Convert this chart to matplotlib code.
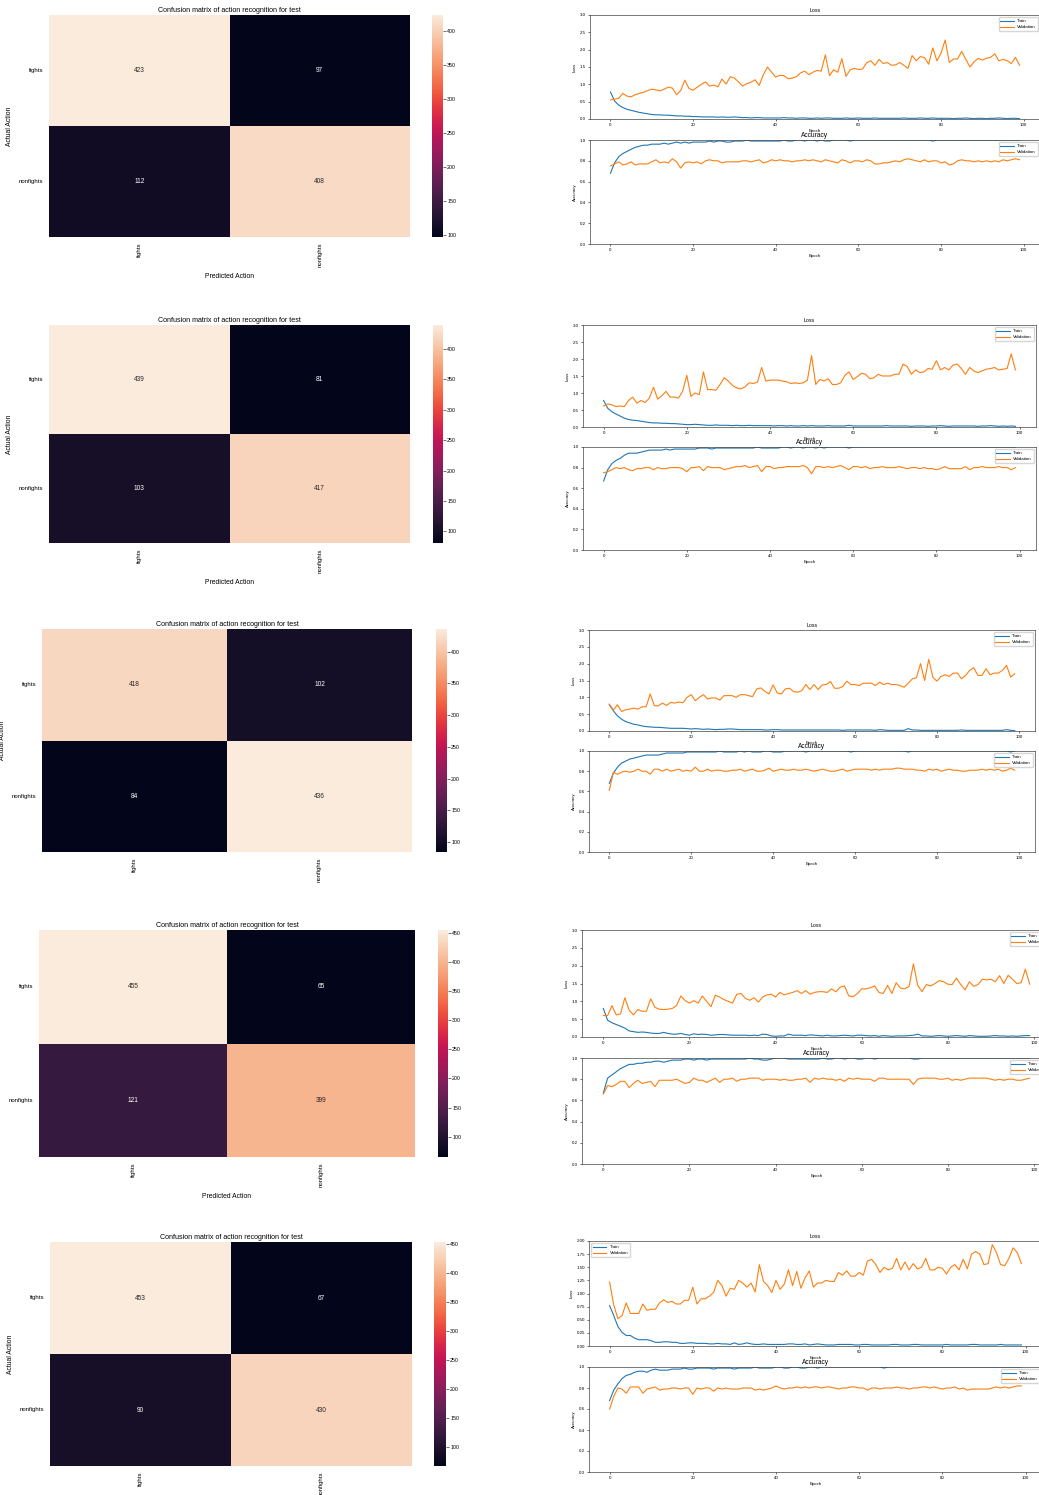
import numpy as np
import matplotlib
matplotlib.use('Agg')
import matplotlib.pyplot as plt
import seaborn as sns

plt.rcParams['font.family'] = ['Liberation Sans', 'DejaVu Sans']

W, H = 1039, 1495

# confusion matrices (rows: actual, cols: predicted)
classes = ['fights', 'nonfights']
cm_1 = [[423, 97], [112, 408]]
cm_2 = [[439, 81], [103, 417]]
cm_3 = [[418, 102], [84, 436]]
cm_4 = [[455, 65], [121, 399]]
cm_5 = [[453, 67], [90, 430]]

# run 1 history
loss_train_1 = [0.78, 0.52, 0.40, 0.33, 0.28, 0.25, 0.22, 0.19, 0.17, 0.15,
                0.13, 0.12, 0.12, 0.11, 0.11, 0.10, 0.09, 0.09, 0.08, 0.08,
                0.07, 0.07, 0.06, 0.06, 0.06, 0.06, 0.05, 0.06, 0.05, 0.05,
                0.06, 0.05, 0.04, 0.04, 0.03, 0.04, 0.04, 0.03, 0.03, 0.03,
                0.03, 0.03, 0.04, 0.03, 0.03, 0.02, 0.03, 0.03, 0.02, 0.02,
                0.03, 0.02, 0.03, 0.03, 0.02, 0.02, 0.02, 0.03, 0.02, 0.02,
                0.03, 0.02, 0.02, 0.02, 0.03, 0.02, 0.02, 0.02, 0.02, 0.02,
                0.02, 0.03, 0.02, 0.02, 0.02, 0.03, 0.02, 0.02, 0.03, 0.02,
                0.02, 0.02, 0.02, 0.01, 0.02, 0.02, 0.03, 0.02, 0.01, 0.02,
                0.02, 0.01, 0.02, 0.02, 0.03, 0.02, 0.01, 0.02, 0.02, 0.01]
loss_val_1 = [0.55, 0.57, 0.60, 0.74, 0.66, 0.64, 0.70, 0.74, 0.77, 0.82,
              0.86, 0.84, 0.81, 0.86, 0.92, 0.89, 0.70, 0.82, 1.12, 0.88,
              0.83, 0.92, 1.00, 1.07, 0.95, 0.98, 0.93, 1.15, 1.01, 1.22,
              1.18, 1.07, 0.95, 1.02, 1.06, 1.13, 0.97, 1.28, 1.50, 1.35,
              1.21, 1.26, 1.25, 1.16, 1.18, 1.22, 1.33, 1.38, 1.28, 1.35,
              1.40, 1.38, 1.85, 1.25, 1.42, 1.35, 1.74, 1.23, 1.42, 1.46,
              1.43, 1.44, 1.62, 1.68, 1.55, 1.72, 1.60, 1.63, 1.55, 1.56,
              1.63, 1.55, 1.46, 1.83, 1.68, 1.80, 1.77, 1.58, 2.05, 1.68,
              1.90, 2.28, 1.63, 1.73, 1.73, 1.95, 1.72, 1.50, 1.65, 1.75,
              1.70, 1.75, 1.78, 1.88, 1.68, 1.72, 1.68, 1.60, 1.78, 1.55]
acc_train_1 = [0.68, 0.78, 0.84, 0.87, 0.89, 0.91, 0.93, 0.94, 0.95, 0.95,
               0.96, 0.96, 0.96, 0.97, 0.96, 0.97, 0.98, 0.97, 0.98, 0.97,
               0.98, 0.98, 0.98, 0.98, 0.99, 0.98, 0.99, 0.99, 0.98, 0.98,
               0.99, 0.99, 0.99, 1.00, 0.99, 0.99, 0.99, 0.99, 0.99, 0.99,
               0.99, 0.99, 1.00, 0.99, 0.99, 1.00, 1.00, 0.99, 1.00, 1.00,
               0.99, 1.00, 0.99, 0.99, 1.00, 1.00, 1.00, 1.00, 0.99, 1.00,
               1.00, 1.00, 1.00, 1.00, 1.00, 1.00, 1.00, 1.00, 1.00, 1.00,
               1.00, 1.00, 1.00, 1.00, 1.00, 1.00, 1.00, 1.00, 0.99, 1.00,
               1.00, 1.00, 1.00, 1.00, 1.00, 1.00, 1.00, 1.00, 1.00, 1.00,
               1.00, 1.00, 1.00, 1.00, 1.00, 1.00, 1.00, 1.00, 1.00, 1.00]
acc_val_1 = [0.75, 0.77, 0.79, 0.76, 0.77, 0.79, 0.76, 0.77, 0.77, 0.77,
             0.79, 0.81, 0.78, 0.79, 0.78, 0.82, 0.79, 0.73, 0.78, 0.79,
             0.78, 0.79, 0.77, 0.80, 0.81, 0.80, 0.80, 0.78, 0.79, 0.79,
             0.79, 0.79, 0.80, 0.80, 0.79, 0.80, 0.81, 0.78, 0.79, 0.81,
             0.80, 0.81, 0.80, 0.80, 0.79, 0.80, 0.80, 0.81, 0.80, 0.81,
             0.80, 0.79, 0.81, 0.80, 0.79, 0.78, 0.81, 0.80, 0.78, 0.80,
             0.80, 0.79, 0.81, 0.80, 0.77, 0.77, 0.78, 0.78, 0.79, 0.80,
             0.79, 0.81, 0.82, 0.81, 0.80, 0.79, 0.81, 0.79, 0.80, 0.80,
             0.78, 0.79, 0.76, 0.77, 0.80, 0.81, 0.80, 0.80, 0.79, 0.80,
             0.79, 0.80, 0.79, 0.80, 0.79, 0.81, 0.80, 0.81, 0.82, 0.81]

# run 2 history
loss_train_2 = [0.78, 0.55, 0.45, 0.38, 0.32, 0.26, 0.22, 0.20, 0.19, 0.17,
                0.15, 0.13, 0.12, 0.12, 0.11, 0.11, 0.10, 0.10, 0.09, 0.08,
                0.07, 0.07, 0.08, 0.07, 0.06, 0.05, 0.05, 0.06, 0.05, 0.05,
                0.05, 0.04, 0.05, 0.04, 0.04, 0.05, 0.04, 0.04, 0.04, 0.04,
                0.04, 0.03, 0.04, 0.04, 0.03, 0.04, 0.03, 0.03, 0.04, 0.03,
                0.04, 0.03, 0.03, 0.03, 0.04, 0.03, 0.03, 0.03, 0.03, 0.05,
                0.03, 0.03, 0.03, 0.03, 0.03, 0.03, 0.03, 0.03, 0.04, 0.03,
                0.03, 0.03, 0.03, 0.03, 0.02, 0.03, 0.03, 0.03, 0.02, 0.03,
                0.03, 0.04, 0.03, 0.02, 0.03, 0.03, 0.03, 0.03, 0.03, 0.03,
                0.02, 0.03, 0.03, 0.04, 0.03, 0.02, 0.03, 0.02, 0.03, 0.02]
loss_val_2 = [0.62, 0.68, 0.65, 0.60, 0.62, 0.60, 0.78, 0.88, 0.70, 0.78,
              0.72, 0.85, 1.17, 0.82, 0.92, 1.05, 0.88, 0.88, 0.85, 1.05,
              1.52, 0.90, 1.00, 0.95, 1.62, 1.10, 1.10, 1.08, 1.25, 1.45,
              1.35, 1.22, 1.15, 1.12, 1.18, 1.30, 1.28, 1.32, 1.75, 1.35,
              1.38, 1.38, 1.38, 1.35, 1.33, 1.28, 1.30, 1.28, 1.30, 1.38,
              2.10, 1.25, 1.40, 1.35, 1.42, 1.25, 1.25, 1.30, 1.52, 1.62,
              1.40, 1.48, 1.58, 1.55, 1.42, 1.45, 1.55, 1.50, 1.50, 1.50,
              1.55, 1.55, 1.85, 1.78, 1.55, 1.68, 1.60, 1.62, 1.72, 1.70,
              1.95, 1.68, 1.75, 1.68, 1.82, 1.85, 1.72, 1.55, 1.75, 1.65,
              1.60, 1.65, 1.70, 1.72, 1.75, 1.68, 1.70, 1.72, 2.15, 1.68]
acc_train_2 = [0.67, 0.78, 0.84, 0.87, 0.89, 0.92, 0.94, 0.94, 0.94, 0.95,
               0.96, 0.97, 0.97, 0.97, 0.97, 0.98, 0.97, 0.98, 0.98, 0.98,
               0.98, 0.98, 0.98, 0.99, 0.99, 0.99, 0.98, 0.99, 0.99, 0.99,
               0.99, 0.99, 0.99, 0.99, 0.99, 0.99, 0.99, 1.00, 0.99, 0.99,
               0.99, 0.99, 0.99, 1.00, 1.00, 0.99, 1.00, 1.00, 0.99, 1.00,
               1.00, 0.99, 1.00, 0.99, 1.00, 1.00, 1.00, 1.00, 1.00, 0.99,
               1.00, 1.00, 1.00, 1.00, 1.00, 1.00, 1.00, 1.00, 1.00, 1.00,
               1.00, 1.00, 1.00, 1.00, 1.00, 1.00, 1.00, 1.00, 1.00, 1.00,
               1.00, 1.00, 1.00, 1.00, 1.00, 1.00, 1.00, 1.00, 1.00, 1.00,
               1.00, 1.00, 1.00, 1.00, 1.00, 1.00, 1.00, 1.00, 1.00, 1.00]
acc_val_2 = [0.75, 0.76, 0.78, 0.80, 0.79, 0.80, 0.78, 0.77, 0.79, 0.79,
             0.80, 0.80, 0.78, 0.80, 0.79, 0.79, 0.80, 0.80, 0.80, 0.79,
             0.76, 0.80, 0.80, 0.81, 0.77, 0.81, 0.80, 0.80, 0.80, 0.78,
             0.79, 0.80, 0.81, 0.81, 0.82, 0.80, 0.81, 0.82, 0.76, 0.81,
             0.81, 0.79, 0.80, 0.80, 0.81, 0.81, 0.81, 0.81, 0.82, 0.80,
             0.74, 0.81, 0.81, 0.80, 0.81, 0.80, 0.81, 0.82, 0.80, 0.78,
             0.81, 0.81, 0.80, 0.81, 0.79, 0.80, 0.80, 0.81, 0.80, 0.80,
             0.80, 0.81, 0.80, 0.79, 0.80, 0.80, 0.79, 0.80, 0.79, 0.79,
             0.78, 0.79, 0.81, 0.79, 0.79, 0.79, 0.79, 0.81, 0.78, 0.80,
             0.80, 0.81, 0.80, 0.80, 0.80, 0.81, 0.80, 0.80, 0.78, 0.80]

# run 3 history
loss_train_3 = [0.78, 0.60, 0.45, 0.35, 0.28, 0.24, 0.20, 0.18, 0.15, 0.13,
                0.12, 0.11, 0.11, 0.10, 0.09, 0.08, 0.08, 0.08, 0.08, 0.07,
                0.06, 0.07, 0.06, 0.05, 0.06, 0.05, 0.04, 0.05, 0.05, 0.06,
                0.06, 0.05, 0.04, 0.04, 0.04, 0.04, 0.04, 0.04, 0.03, 0.03,
                0.04, 0.04, 0.03, 0.03, 0.03, 0.03, 0.03, 0.03, 0.03, 0.03,
                0.03, 0.03, 0.03, 0.03, 0.03, 0.03, 0.03, 0.02, 0.03, 0.03,
                0.03, 0.03, 0.03, 0.03, 0.03, 0.02, 0.04, 0.03, 0.02, 0.02,
                0.02, 0.02, 0.02, 0.07, 0.03, 0.03, 0.02, 0.02, 0.02, 0.02,
                0.02, 0.02, 0.02, 0.02, 0.02, 0.02, 0.03, 0.02, 0.02, 0.02,
                0.02, 0.02, 0.02, 0.02, 0.02, 0.02, 0.02, 0.04, 0.02, 0.01]
loss_val_3 = [0.80, 0.62, 0.78, 0.58, 0.63, 0.65, 0.68, 0.65, 0.72, 0.72,
              1.10, 0.75, 0.75, 0.83, 0.76, 0.85, 0.83, 0.86, 0.84, 1.00,
              1.08, 0.90, 1.00, 1.08, 0.95, 0.98, 0.98, 0.92, 1.05, 1.05,
              1.05, 1.00, 1.08, 1.08, 1.05, 1.02, 1.25, 1.28, 1.18, 1.10,
              1.37, 1.13, 1.10, 1.25, 1.27, 1.17, 1.15, 1.20, 1.38, 1.23,
              1.38, 1.23, 1.37, 1.38, 1.47, 1.27, 1.27, 1.32, 1.48, 1.38,
              1.38, 1.35, 1.42, 1.42, 1.42, 1.35, 1.45, 1.38, 1.42, 1.38,
              1.38, 1.35, 1.30, 1.42, 1.55, 1.58, 2.00, 1.50, 2.13, 1.60,
              1.48, 1.62, 1.67, 1.62, 1.72, 1.72, 1.55, 1.65, 1.80, 1.88,
              1.65, 1.65, 1.85, 1.67, 1.72, 1.72, 1.80, 1.95, 1.60, 1.70]
acc_train_3 = [0.68, 0.78, 0.84, 0.88, 0.90, 0.92, 0.93, 0.94, 0.95, 0.96,
               0.96, 0.96, 0.96, 0.97, 0.98, 0.98, 0.98, 0.98, 0.98, 0.99,
               0.99, 0.99, 0.99, 0.99, 0.99, 0.99, 0.99, 1.00, 0.99, 0.99,
               0.99, 0.99, 1.00, 0.99, 1.00, 0.99, 0.99, 0.99, 1.00, 1.00,
               0.99, 0.99, 0.99, 1.00, 1.00, 1.00, 1.00, 1.00, 0.99, 1.00,
               1.00, 1.00, 1.00, 1.00, 1.00, 1.00, 1.00, 1.00, 1.00, 0.99,
               1.00, 1.00, 1.00, 1.00, 1.00, 1.00, 1.00, 1.00, 1.00, 1.00,
               1.00, 1.00, 1.00, 0.99, 1.00, 1.00, 1.00, 1.00, 1.00, 1.00,
               1.00, 1.00, 1.00, 1.00, 1.00, 1.00, 1.00, 1.00, 1.00, 1.00,
               1.00, 1.00, 1.00, 1.00, 1.00, 1.00, 1.00, 1.00, 0.99, 1.00]
acc_val_3 = [0.61, 0.79, 0.77, 0.79, 0.80, 0.79, 0.80, 0.82, 0.80, 0.80,
             0.77, 0.82, 0.82, 0.80, 0.82, 0.80, 0.81, 0.82, 0.80, 0.81,
             0.80, 0.84, 0.80, 0.80, 0.82, 0.80, 0.81, 0.81, 0.80, 0.80,
             0.81, 0.81, 0.82, 0.80, 0.81, 0.82, 0.80, 0.80, 0.81, 0.83,
             0.80, 0.81, 0.82, 0.81, 0.81, 0.82, 0.81, 0.81, 0.82, 0.81,
             0.80, 0.81, 0.82, 0.81, 0.80, 0.80, 0.81, 0.82, 0.80, 0.81,
             0.82, 0.82, 0.82, 0.82, 0.81, 0.82, 0.81, 0.82, 0.82, 0.82,
             0.83, 0.83, 0.82, 0.82, 0.82, 0.81, 0.81, 0.80, 0.82, 0.81,
             0.82, 0.80, 0.81, 0.82, 0.81, 0.81, 0.80, 0.80, 0.81, 0.81,
             0.81, 0.82, 0.81, 0.82, 0.81, 0.82, 0.80, 0.81, 0.83, 0.81]

# run 4 history
loss_train_4 = [0.80, 0.47, 0.40, 0.35, 0.30, 0.25, 0.17, 0.15, 0.13, 0.14,
                0.13, 0.11, 0.10, 0.10, 0.13, 0.10, 0.08, 0.08, 0.10, 0.07,
                0.05, 0.09, 0.07, 0.08, 0.07, 0.05, 0.06, 0.07, 0.07, 0.06,
                0.05, 0.05, 0.05, 0.05, 0.04, 0.05, 0.04, 0.08, 0.07, 0.03,
                0.02, 0.03, 0.03, 0.08, 0.05, 0.05, 0.05, 0.04, 0.06, 0.05,
                0.04, 0.03, 0.05, 0.03, 0.03, 0.04, 0.05, 0.04, 0.03, 0.05,
                0.05, 0.04, 0.03, 0.04, 0.02, 0.04, 0.03, 0.02, 0.03, 0.03,
                0.03, 0.04, 0.05, 0.08, 0.03, 0.03, 0.02, 0.03, 0.04, 0.03,
                0.02, 0.03, 0.04, 0.03, 0.02, 0.04, 0.03, 0.02, 0.02, 0.02,
                0.03, 0.04, 0.03, 0.03, 0.02, 0.03, 0.02, 0.03, 0.04, 0.04]
loss_val_4 = [0.60, 0.60, 0.88, 0.62, 0.65, 1.10, 0.75, 0.62, 0.77, 0.72,
              0.72, 1.07, 0.83, 0.78, 0.77, 0.78, 0.80, 0.88, 1.15, 1.02,
              0.95, 1.02, 0.95, 1.15, 1.00, 0.85, 1.17, 1.12, 1.05, 1.00,
              0.95, 1.20, 1.22, 1.08, 1.03, 1.10, 0.98, 1.12, 1.18, 1.20,
              1.12, 1.25, 1.18, 1.22, 1.25, 1.30, 1.22, 1.30, 1.20, 1.25,
              1.27, 1.27, 1.25, 1.35, 1.27, 1.40, 1.43, 1.15, 1.13, 1.22,
              1.35, 1.35, 1.38, 1.43, 1.25, 1.22, 1.45, 1.22, 1.52, 1.37,
              1.35, 1.42, 2.05, 1.45, 1.27, 1.47, 1.43, 1.50, 1.58, 1.55,
              1.48, 1.47, 1.65, 1.47, 1.32, 1.55, 1.42, 1.47, 1.62, 1.60,
              1.62, 1.55, 1.72, 1.50, 1.73, 1.62, 1.50, 1.52, 1.90, 1.48]
acc_train_4 = [0.67, 0.81, 0.84, 0.87, 0.90, 0.92, 0.94, 0.94, 0.95, 0.95,
               0.96, 0.96, 0.97, 0.97, 0.96, 0.97, 0.98, 0.98, 0.98, 0.99,
               0.99, 0.98, 0.99, 0.99, 0.98, 0.99, 0.99, 0.99, 0.99, 0.99,
               0.99, 0.99, 0.99, 0.99, 1.00, 0.99, 0.99, 0.98, 0.98, 0.99,
               1.00, 1.00, 1.00, 0.99, 0.99, 0.99, 0.99, 0.99, 0.99, 0.99,
               0.99, 1.00, 0.99, 0.99, 1.00, 1.00, 0.99, 1.00, 1.00, 0.99,
               0.99, 1.00, 1.00, 0.99, 1.00, 1.00, 1.00, 1.00, 1.00, 1.00,
               1.00, 1.00, 0.99, 0.99, 1.00, 1.00, 1.00, 1.00, 1.00, 1.00,
               1.00, 1.00, 1.00, 1.00, 1.00, 1.00, 1.00, 1.00, 1.00, 1.00,
               1.00, 1.00, 1.00, 1.00, 1.00, 1.00, 1.00, 1.00, 1.00, 1.00]
acc_val_4 = [0.66, 0.74, 0.73, 0.75, 0.78, 0.78, 0.72, 0.76, 0.79, 0.76,
             0.77, 0.78, 0.73, 0.79, 0.79, 0.79, 0.79, 0.80, 0.78, 0.76,
             0.77, 0.81, 0.79, 0.79, 0.77, 0.79, 0.81, 0.77, 0.80, 0.80,
             0.81, 0.78, 0.80, 0.80, 0.81, 0.81, 0.81, 0.79, 0.80, 0.80,
             0.80, 0.79, 0.80, 0.79, 0.79, 0.80, 0.80, 0.81, 0.77, 0.81,
             0.80, 0.81, 0.80, 0.80, 0.79, 0.80, 0.78, 0.81, 0.80, 0.81,
             0.80, 0.80, 0.80, 0.78, 0.81, 0.81, 0.80, 0.80, 0.80, 0.80,
             0.80, 0.80, 0.75, 0.80, 0.81, 0.81, 0.81, 0.81, 0.80, 0.80,
             0.81, 0.79, 0.80, 0.79, 0.80, 0.81, 0.81, 0.81, 0.81, 0.81,
             0.80, 0.79, 0.80, 0.79, 0.80, 0.80, 0.79, 0.79, 0.80, 0.81]

# run 5 history
loss_train_5 = [0.77, 0.58, 0.37, 0.26, 0.20, 0.20, 0.15, 0.12, 0.12, 0.12,
                0.10, 0.07, 0.07, 0.08, 0.08, 0.07, 0.07, 0.05, 0.05, 0.06,
                0.06, 0.05, 0.05, 0.05, 0.04, 0.04, 0.05, 0.04, 0.04, 0.03,
                0.06, 0.03, 0.04, 0.06, 0.04, 0.03, 0.03, 0.04, 0.03, 0.03,
                0.03, 0.03, 0.03, 0.04, 0.04, 0.03, 0.03, 0.04, 0.02, 0.03,
                0.04, 0.03, 0.02, 0.02, 0.02, 0.03, 0.03, 0.03, 0.03, 0.02,
                0.02, 0.03, 0.03, 0.02, 0.02, 0.02, 0.02, 0.02, 0.03, 0.03,
                0.02, 0.02, 0.02, 0.03, 0.03, 0.02, 0.02, 0.02, 0.02, 0.02,
                0.02, 0.03, 0.02, 0.02, 0.02, 0.02, 0.02, 0.03, 0.03, 0.02,
                0.02, 0.02, 0.02, 0.02, 0.03, 0.02, 0.02, 0.02, 0.02, 0.02]
loss_val_5 = [1.22, 0.78, 0.52, 0.58, 0.82, 0.62, 0.62, 0.62, 0.80, 0.68,
              0.70, 0.70, 0.82, 0.88, 0.83, 0.85, 0.80, 0.80, 0.87, 0.87,
              1.12, 0.80, 0.90, 0.90, 0.95, 1.02, 1.25, 1.15, 0.95, 1.10,
              1.08, 1.25, 1.20, 1.12, 1.20, 1.03, 1.55, 1.23, 1.15, 1.02,
              1.25, 1.08, 1.18, 1.45, 1.15, 1.42, 1.10, 1.30, 1.43, 1.12,
              1.20, 1.20, 1.25, 1.23, 1.23, 1.40, 1.35, 1.43, 1.33, 1.33,
              1.40, 1.35, 1.62, 1.65, 1.55, 1.40, 1.50, 1.45, 1.48, 1.67,
              1.45, 1.60, 1.45, 1.57, 1.47, 1.50, 1.67, 1.45, 1.45, 1.50,
              1.48, 1.37, 1.50, 1.55, 1.45, 1.65, 1.47, 1.75, 1.80, 1.75,
              1.55, 1.57, 1.93, 1.78, 1.55, 1.53, 1.67, 1.87, 1.78, 1.57]
acc_train_5 = [0.68, 0.78, 0.84, 0.89, 0.92, 0.93, 0.95, 0.96, 0.96, 0.95,
               0.97, 0.98, 0.97, 0.97, 0.97, 0.98, 0.98, 0.98, 0.99, 0.98,
               0.98, 0.99, 0.99, 0.99, 0.99, 0.98, 0.99, 0.99, 0.99, 0.99,
               0.98, 0.99, 0.99, 0.99, 0.99, 1.00, 0.99, 0.99, 0.99, 0.99,
               1.00, 1.00, 0.99, 0.99, 1.00, 1.00, 0.99, 0.99, 1.00, 1.00,
               0.99, 1.00, 1.00, 1.00, 1.00, 1.00, 1.00, 1.00, 1.00, 1.00,
               1.00, 1.00, 1.00, 1.00, 1.00, 1.00, 0.99, 1.00, 1.00, 1.00,
               1.00, 1.00, 1.00, 1.00, 1.00, 1.00, 1.00, 1.00, 1.00, 1.00,
               1.00, 1.00, 1.00, 1.00, 1.00, 1.00, 1.00, 1.00, 1.00, 1.00,
               1.00, 1.00, 1.00, 1.00, 1.00, 1.00, 1.00, 1.00, 1.00, 1.00]
acc_val_5 = [0.60, 0.72, 0.80, 0.79, 0.75, 0.81, 0.81, 0.81, 0.75, 0.79,
             0.80, 0.81, 0.78, 0.79, 0.79, 0.80, 0.80, 0.79, 0.80, 0.80,
             0.74, 0.80, 0.79, 0.80, 0.80, 0.77, 0.80, 0.79, 0.80, 0.79,
             0.79, 0.79, 0.80, 0.80, 0.80, 0.78, 0.79, 0.78, 0.79, 0.80,
             0.82, 0.80, 0.79, 0.80, 0.80, 0.81, 0.80, 0.81, 0.80, 0.81,
             0.81, 0.80, 0.81, 0.81, 0.80, 0.79, 0.80, 0.80, 0.81, 0.81,
             0.80, 0.80, 0.78, 0.80, 0.80, 0.79, 0.80, 0.80, 0.80, 0.81,
             0.80, 0.80, 0.79, 0.80, 0.80, 0.81, 0.81, 0.80, 0.81, 0.80,
             0.79, 0.80, 0.80, 0.81, 0.79, 0.80, 0.78, 0.79, 0.79, 0.79,
             0.79, 0.79, 0.80, 0.81, 0.80, 0.81, 0.80, 0.81, 0.82, 0.82]

runs = [
    dict(cm=cm_1, lt=loss_train_1, lv=loss_val_1, at=acc_train_1, av=acc_val_1,
         heat=(49, 15, 410, 237), cbar=(432, 15, 443, 237),
         loss=(590, 15, 1040, 119), acc=(590, 140, 1040, 244),
         xlabel=True, loss_top=3.0, loss_leg='upper right'),
    dict(cm=cm_2, lt=loss_train_2, lv=loss_val_2, at=acc_train_2, av=acc_val_2,
         heat=(49, 325, 410, 543), cbar=(433, 325, 443, 543),
         loss=(583, 325, 1036, 427), acc=(583, 447, 1036, 550),
         xlabel=True, loss_top=3.0, loss_leg='upper right'),
    dict(cm=cm_3, lt=loss_train_3, lv=loss_val_3, at=acc_train_3, av=acc_val_3,
         heat=(42, 629, 412, 852), cbar=(436, 629, 447, 852),
         loss=(589, 630, 1035, 731), acc=(589, 751, 1035, 852),
         xlabel=False, loss_top=3.0, loss_leg='upper right'),
    dict(cm=cm_4, lt=loss_train_4, lv=loss_val_4, at=acc_train_4, av=acc_val_4,
         heat=(39, 930, 415, 1157), cbar=(438, 930, 448, 1157),
         loss=(582, 930, 1051, 1037), acc=(582, 1058, 1051, 1164),
         xlabel=True, loss_top=3.0, loss_leg='upper right'),
    dict(cm=cm_5, lt=loss_train_5, lv=loss_val_5, at=acc_train_5, av=acc_val_5,
         heat=(50, 1242, 412, 1466), cbar=(434, 1242, 446, 1466),
         loss=(589, 1241, 1042, 1346), acc=(589, 1367, 1042, 1472),
         xlabel=False, loss_top=2.0, loss_leg='upper left'),
]


def box(b):
    x0, y0, x1, y1 = b
    return [x0 / W, 1 - y1 / H, (x1 - x0) / W, (y1 - y0) / H]


def style_line_ax(ax):
    ax.tick_params(labelsize=3.2, length=1.5, width=0.4, pad=1.5)
    for s in ax.spines.values():
        s.set_linewidth(0.5)
        s.set_color('#444444')


fig = plt.figure(figsize=(W / 100, H / 100), dpi=100)

for r in runs:
    # confusion matrix
    ax = fig.add_axes(box(r['heat']))
    cax = fig.add_axes(box(r['cbar']))
    sns.heatmap(np.array(r['cm']), annot=True, fmt='d', ax=ax, cbar_ax=cax,
                xticklabels=classes, yticklabels=classes,
                annot_kws={'size': 4.7})
    ax.set_title('Confusion matrix of action recognition for test',
                 fontsize=5.1, pad=2)
    ax.set_ylabel('Actual Action', fontsize=4.9, labelpad=4)
    if r['xlabel']:
        ax.set_xlabel('Predicted Action', fontsize=4.9, labelpad=4)
    ax.tick_params(labelsize=4.3, length=0, pad=4)
    plt.setp(ax.get_xticklabels(), rotation=90)
    plt.setp(ax.get_yticklabels(), rotation=0)
    cax.tick_params(labelsize=3.8, length=2, width=0.4, pad=1)

    epochs = np.arange(len(r['lt']))

    # loss curve
    ax = fig.add_axes(box(r['loss']))
    ax.plot(epochs, r['lt'], lw=0.8, label='Train')
    ax.plot(np.arange(len(r['lv'])), r['lv'], lw=0.8, label='Validation')
    ax.set_ylim(0, r['loss_top'])
    ax.set_title('Loss', fontsize=3.8, pad=2)
    ax.set_ylabel('Loss', fontsize=3.2, labelpad=2)
    ax.set_xlabel('Epoch', fontsize=3.2, labelpad=1)
    ax.legend(loc=r['loss_leg'], fontsize=3.2, handlelength=3, borderpad=0.4)
    style_line_ax(ax)

    # accuracy curve
    ax = fig.add_axes(box(r['acc']))
    ax.plot(epochs, r['at'], lw=0.8, label='Train')
    ax.plot(np.arange(len(r['av'])), r['av'], lw=0.8, label='Validation')
    ax.set_ylim(0, 1.0)
    ax.set_title('Accuracy', fontsize=4.8, pad=2)
    ax.set_ylabel('Accuracy', fontsize=3.2, labelpad=2)
    ax.set_xlabel('Epoch', fontsize=3.2, labelpad=1)
    ax.legend(loc='upper right', fontsize=3.2, handlelength=3, borderpad=0.4)
    style_line_ax(ax)

fig.savefig('out.png', dpi=100)
